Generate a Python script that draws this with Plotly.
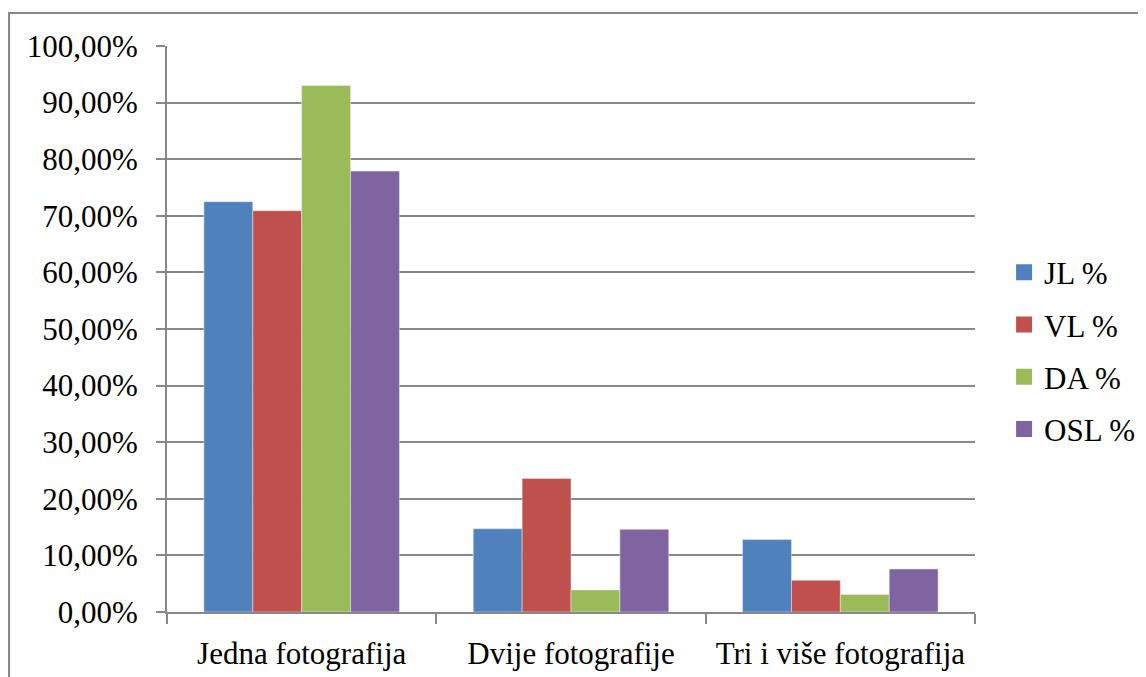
import plotly.graph_objects as go

categories = ["Jedna fotografija", "Dvije fotografije", "Tri i više fotografija"]
series_names = ["JL %", "VL %", "DA %", "OSL %"]
jl = [72.5, 14.7, 12.8]
vl = [70.9, 23.6, 5.6]
da = [93.0, 3.9, 3.1]
osl = [77.9, 14.6, 7.6]
colors = ["#4F81BD", "#C0504D", "#9BBB59", "#8064A2"]

FONT = "Liberation Serif, Times New Roman, serif"
GRID = "#888888"

fig = go.Figure()
for name, vals, col in zip(series_names, [jl, vl, da, osl], colors):
    fig.add_trace(go.Bar(x=categories, y=vals, name=name, marker_color=col,
                         showlegend=False))
    fig.add_trace(go.Scatter(x=[None], y=[None], mode="markers", name=name,
                             marker=dict(symbol="square", size=17, color=col),
                             legendgroup=name, showlegend=True))

fig.update_layout(
    width=1146, height=677,
    margin=dict(l=159, r=179, t=38, b=73, autoexpand=False),
    paper_bgcolor="white", plot_bgcolor="white",
    barmode="group", bargap=0.274, bargroupgap=0,
    separators=", ",
    font=dict(family=FONT, size=31, color="black"),
    legend=dict(x=1.036, xanchor="left", y=0.461, yanchor="middle",
                font=dict(family=FONT, size=31), tracegroupgap=9,
                itemwidth=30,
                traceorder="grouped", bgcolor="rgba(0,0,0,0)"),
    xaxis=dict(showgrid=False, showline=True, linecolor=GRID, linewidth=2,
               ticks="outside", tickson="boundaries", ticklen=10,
               tickcolor=GRID, tickwidth=2, automargin=False,
               tickfont=dict(family=FONT, size=31), ticklabelstandoff=13),
    yaxis=dict(range=[0, 100], dtick=10, tickformat=".2f", ticksuffix="%",
               showgrid=True, gridcolor=GRID, gridwidth=2,
               showline=True, linecolor=GRID, linewidth=2,
               ticks="outside", ticklen=9, tickcolor=GRID, tickwidth=2,
               zeroline=False, automargin=False,
               tickfont=dict(family=FONT, size=31), ticklabelstandoff=12),
    shapes=[dict(type="rect", xref="paper", yref="paper",
                 x0=(9 - 167) / 808, x1=1.3, y0=-0.3, y1=(612 - 13) / 566,
                 line=dict(color=GRID, width=2), fillcolor="rgba(0,0,0,0)",
                 layer="below")],
)

fig.write_html("out.html")
